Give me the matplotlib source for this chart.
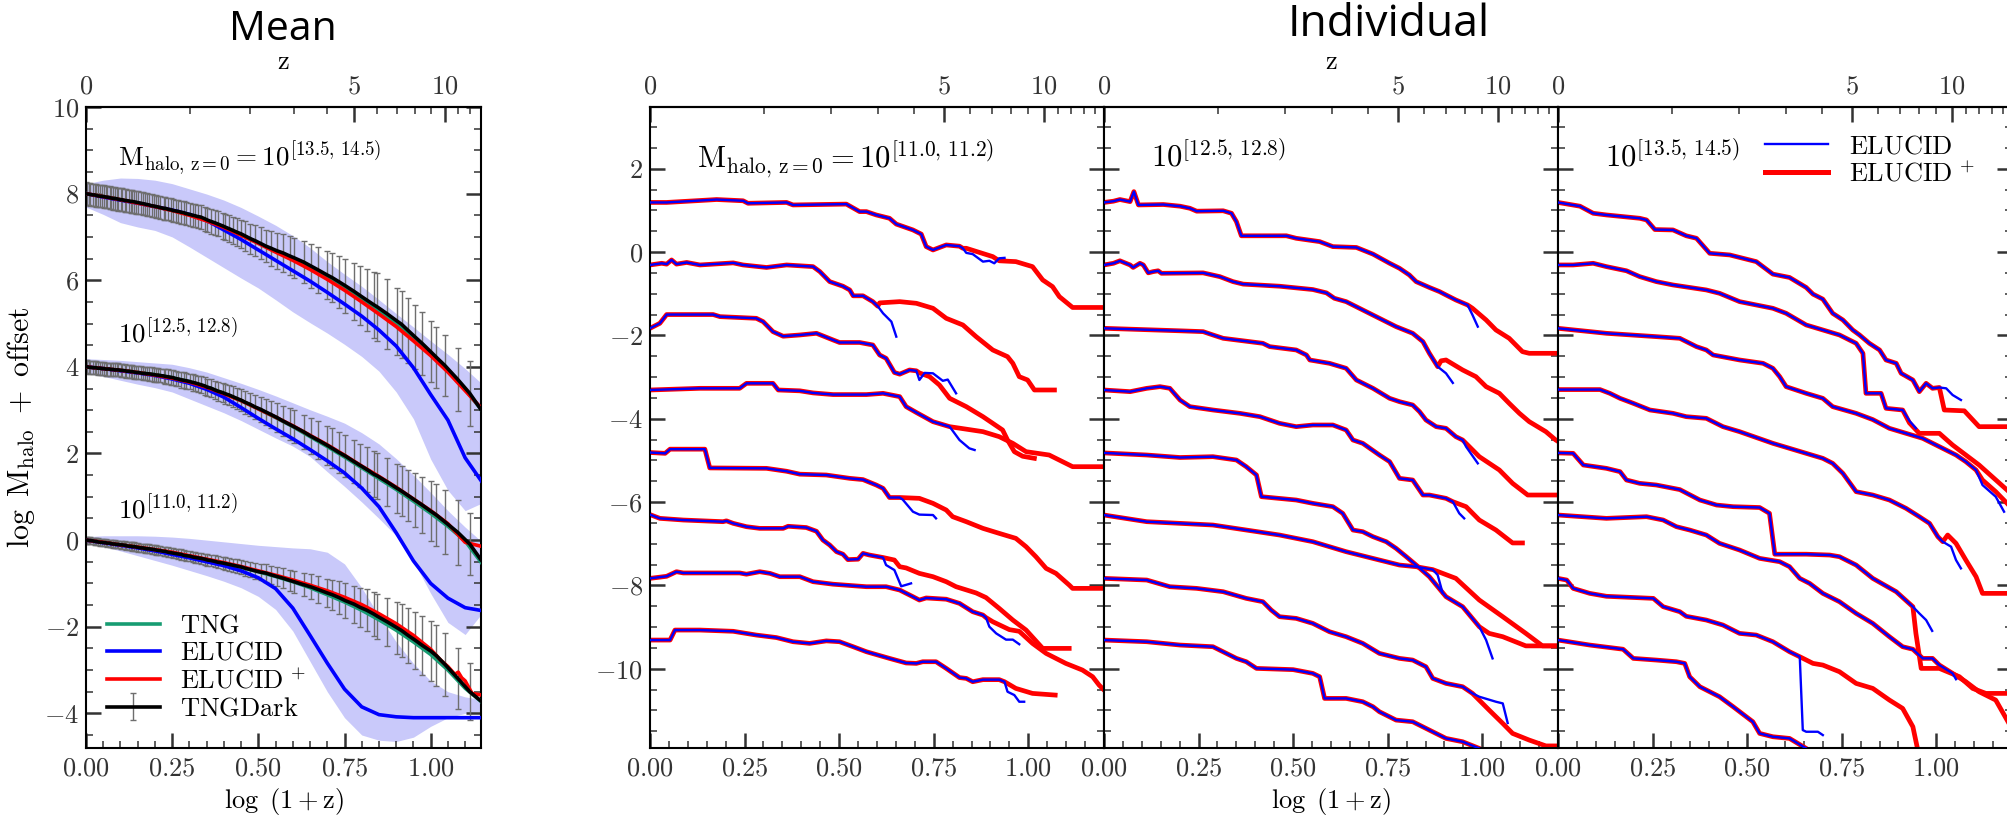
import numpy as np
import matplotlib.pyplot as plt
from matplotlib.lines import Line2D
from matplotlib.ticker import MultipleLocator, FixedLocator, FuncFormatter

plt.rcParams['font.family'] = 'serif'
plt.rcParams['font.serif'] = ['cmr10', 'DejaVu Serif']
plt.rcParams['mathtext.fontset'] = 'cm'
plt.rcParams['axes.unicode_minus'] = False

# ---------------- Mean panel data ----------------
# TNG snapshot redshifts (TNGDark points / error bars)
SNAP_Z = [0.00, 0.01, 0.02, 0.03, 0.05, 0.06, 0.07, 0.08, 0.10, 0.11,
          0.13, 0.14, 0.15, 0.17, 0.18, 0.20, 0.21, 0.23, 0.24, 0.26,
          0.27, 0.30, 0.31, 0.33, 0.35, 0.36, 0.38, 0.40, 0.42, 0.44,
          0.46, 0.48, 0.50, 0.52, 0.55, 0.58, 0.60, 0.62, 0.64, 0.68,
          0.70, 0.73, 0.76, 0.79, 0.82, 0.85, 0.89, 0.92, 0.95, 1.00,
          1.04, 1.07, 1.11, 1.15, 1.21, 1.25, 1.30, 1.36, 1.41, 1.50,
          1.53, 1.60, 1.67, 1.74, 1.82, 1.90, 2.00, 2.10, 2.21, 2.32,
          2.44, 2.58, 2.73, 2.90, 3.01, 3.28, 3.49, 3.71, 4.01, 4.18,
          4.43, 4.66, 5.00, 5.23, 5.53, 5.85, 6.01, 6.49, 7.01, 7.24,
          7.60, 8.01, 8.45, 9.00, 9.39, 10.00, 10.98, 11.98, 14.99]

TOP_DARK = [8.00, 7.99, 7.99, 7.98, 7.97, 7.97, 7.96, 7.95, 7.94, 7.94,
            7.93, 7.92, 7.92, 7.91, 7.90, 7.89, 7.89, 7.88, 7.87, 7.86,
            7.86, 7.84, 7.84, 7.83, 7.82, 7.82, 7.81, 7.80, 7.79, 7.78,
            7.77, 7.76, 7.75, 7.74, 7.72, 7.71, 7.70, 7.69, 7.68, 7.66,
            7.66, 7.64, 7.63, 7.61, 7.60, 7.59, 7.57, 7.56, 7.54, 7.52,
            7.50, 7.49, 7.47, 7.46, 7.42, 7.39, 7.36, 7.33, 7.30, 7.25,
            7.23, 7.19, 7.15, 7.11, 7.07, 7.02, 6.96, 6.91, 6.85, 6.79,
            6.74, 6.68, 6.63, 6.56, 6.52, 6.42, 6.33, 6.24, 6.12, 6.06,
            5.96, 5.87, 5.74, 5.65, 5.54, 5.43, 5.38, 5.22, 5.05, 4.98,
            4.84, 4.69, 4.54, 4.35, 4.22, 4.03, 3.71, 3.39, 2.35]
TOP_ERR = [0.26] * 49 + [0.27,
           0.27, 0.27, 0.27, 0.28, 0.28, 0.28, 0.29, 0.29, 0.29, 0.30,
           0.30, 0.31, 0.32, 0.32, 0.33, 0.34, 0.35, 0.36, 0.37, 0.38,
           0.40, 0.42, 0.43, 0.45, 0.46, 0.49, 0.51, 0.53, 0.55, 0.57,
           0.60, 0.63, 0.66, 0.68, 0.72, 0.76, 0.78, 0.80, 0.78, 0.77,
           0.75, 0.73, 0.72, 0.70, 0.70, 0.70, 0.72, 0.75, 0.75]

MID_DARK = [4.00, 4.00, 3.99, 3.99, 3.98, 3.98, 3.98, 3.97, 3.97, 3.96,
            3.96, 3.95, 3.95, 3.95, 3.94, 3.94, 3.93, 3.93, 3.93, 3.92,
            3.92, 3.91, 3.90, 3.90, 3.89, 3.89, 3.88, 3.87, 3.87, 3.86,
            3.85, 3.85, 3.84, 3.84, 3.83, 3.82, 3.81, 3.81, 3.80, 3.79,
            3.78, 3.77, 3.76, 3.75, 3.73, 3.72, 3.70, 3.69, 3.68, 3.66,
            3.64, 3.63, 3.61, 3.59, 3.56, 3.53, 3.51, 3.47, 3.44, 3.40,
            3.38, 3.35, 3.31, 3.27, 3.23, 3.18, 3.13, 3.07, 3.02, 2.96,
            2.90, 2.83, 2.75, 2.67, 2.62, 2.50, 2.40, 2.31, 2.19, 2.12,
            2.02, 1.94, 1.81, 1.73, 1.63, 1.52, 1.48, 1.34, 1.19, 1.13,
            1.03, 0.92, 0.81, 0.67, 0.58, 0.42, 0.18, -0.09, -1.10]
MID_ERR = [0.15] * 33 + [0.16, 0.16, 0.16, 0.16, 0.16, 0.16, 0.17,
           0.17, 0.17, 0.17, 0.17, 0.17, 0.17, 0.18, 0.18, 0.18, 0.18,
           0.19, 0.19, 0.19, 0.20, 0.20, 0.20, 0.21, 0.21, 0.22, 0.22,
           0.23, 0.23, 0.24, 0.25, 0.25, 0.26, 0.27, 0.28, 0.29, 0.30,
           0.31, 0.33, 0.35, 0.37, 0.38, 0.40, 0.42, 0.44, 0.45, 0.46,
           0.47, 0.48, 0.49, 0.50, 0.51, 0.53, 0.54, 0.55, 0.57, 0.58,
           0.60, 0.62, 0.65, 0.70, 0.72, 0.74, 0.75, 0.72, 0.70]

LOW_DARK = [0.00, -0.00, -0.01, -0.01, -0.02, -0.03, -0.03, -0.04, -0.05, -0.05,
            -0.06, -0.06, -0.07, -0.07, -0.08, -0.09, -0.09, -0.10, -0.10, -0.11,
            -0.11, -0.12, -0.13, -0.14, -0.14, -0.15, -0.15, -0.16, -0.17, -0.18,
            -0.18, -0.19, -0.20, -0.20, -0.21, -0.22, -0.23, -0.24, -0.24, -0.26,
            -0.26, -0.28, -0.29, -0.30, -0.31, -0.32, -0.33, -0.35, -0.36, -0.37,
            -0.39, -0.40, -0.41, -0.42, -0.44, -0.46, -0.47, -0.49, -0.51, -0.53,
            -0.54, -0.56, -0.58, -0.60, -0.62, -0.65, -0.68, -0.71, -0.74, -0.76,
            -0.80, -0.84, -0.88, -0.93, -0.96, -1.03, -1.08, -1.14, -1.22, -1.26,
            -1.33, -1.40, -1.48, -1.55, -1.62, -1.71, -1.76, -1.89, -2.03, -2.09,
            -2.20, -2.31, -2.43, -2.56, -2.67, -2.87, -3.19, -3.50, -4.10]
LOW_ERR = [0.08] * 15 + [0.09] * 10 + [0.10] * 11 + [0.11] * 9 + [0.12] * 8 + [
           0.13, 0.13, 0.13, 0.13, 0.14, 0.14, 0.14,
           0.15, 0.15, 0.15, 0.16, 0.16, 0.17, 0.17, 0.18, 0.19, 0.20,
           0.21, 0.22, 0.23, 0.24, 0.25, 0.27, 0.29, 0.31, 0.33, 0.35,
           0.38, 0.40, 0.43, 0.45, 0.48, 0.51, 0.52, 0.56, 0.60, 0.62,
           0.64, 0.66, 0.68, 0.70, 0.71, 0.72, 0.70, 0.66, 0.65]

# coarse grid in log(1+z) for the other mean curves and the ELUCID scatter band
XG = [0.00, 0.05, 0.10, 0.15, 0.20, 0.25, 0.30, 0.35, 0.40, 0.45, 0.50, 0.55,
      0.60, 0.65, 0.70, 0.75, 0.80, 0.85, 0.90, 0.95, 1.00, 1.05, 1.10, 1.15]

TOP_TNG = [8.00, 7.93, 7.86, 7.78, 7.70, 7.61, 7.51, 7.38, 7.23, 7.05, 6.86, 6.67,
           6.49, 6.29, 6.07, 5.83, 5.57, 5.30, 5.01, 4.67, 4.30, 3.92, 3.48, 2.98]
TOP_ELUCID = [8.00, 7.92, 7.85, 7.78, 7.70, 7.62, 7.52, 7.38, 7.16, 6.94, 6.70, 6.46,
              6.22, 5.98, 5.72, 5.45, 5.17, 4.85, 4.48, 3.98, 3.36, 2.77, 1.90, 1.33]
TOP_PLUS = [8.00, 7.93, 7.86, 7.78, 7.70, 7.61, 7.50, 7.37, 7.22, 7.04, 6.85, 6.65,
            6.46, 6.25, 6.02, 5.77, 5.50, 5.22, 4.93, 4.60, 4.26, 3.88, 3.45, 3.02]
TOP_BAND_HI = [8.23, 8.31, 8.36, 8.35, 8.31, 8.23, 8.11, 7.99, 7.85, 7.68, 7.48, 7.27,
               7.03, 6.75, 6.43, 6.14, 5.86, 5.55, 5.23, 4.92, 4.60, 4.29, 3.96, 3.60]
TOP_BAND_LO = [7.69, 7.52, 7.33, 7.23, 7.15, 7.00, 6.77, 6.53, 6.29, 6.05, 5.82, 5.55,
               5.27, 5.02, 4.78, 4.52, 4.24, 3.90, 3.42, 2.80, 1.87, 1.15, 0.68, 0.86]

MID_TNG = [4.00, 3.96, 3.92, 3.87, 3.82, 3.75, 3.66, 3.54, 3.39, 3.22, 3.03, 2.83,
           2.62, 2.39, 2.16, 1.92, 1.67, 1.42, 1.17, 0.90, 0.62, 0.32, -0.02, -0.55]
MID_ELUCID = [4.00, 3.96, 3.91, 3.86, 3.80, 3.72, 3.62, 3.48, 3.30, 3.06, 2.81, 2.57,
              2.34, 2.09, 1.83, 1.55, 1.20, 0.77, 0.17, -0.48, -1.00, -1.34, -1.56, -1.63]
MID_PLUS = [4.00, 3.96, 3.92, 3.87, 3.81, 3.74, 3.65, 3.53, 3.38, 3.22, 3.03, 2.84,
            2.64, 2.42, 2.20, 1.96, 1.71, 1.47, 1.22, 0.95, 0.68, 0.38, -0.05, -0.15]
MID_BAND_HI = [4.19, 4.17, 4.15, 4.12, 4.09, 4.06, 3.98, 3.88, 3.75, 3.62, 3.48, 3.33,
               3.17, 3.01, 2.86, 2.70, 2.48, 2.22, 1.88, 1.50, 1.10, 0.68, 0.30, -0.05]
MID_BAND_LO = [3.85, 3.78, 3.69, 3.60, 3.52, 3.42, 3.26, 3.10, 2.94, 2.76, 2.56, 2.36,
               2.17, 1.93, 1.58, 1.24, 0.88, 0.50, 0.10, -0.48, -1.23, -1.90, -2.18, -1.68]

LOW_TNG = [0.00, -0.05, -0.11, -0.16, -0.23, -0.29, -0.37, -0.45, -0.54, -0.63, -0.73, -0.84,
           -0.96, -1.10, -1.26, -1.43, -1.62, -1.84, -2.08, -2.35, -2.64, -3.00, -3.42, -3.75]
LOW_ELUCID = [0.00, -0.06, -0.12, -0.18, -0.25, -0.33, -0.41, -0.50, -0.59, -0.71, -0.87, -1.12,
              -1.57, -2.20, -2.84, -3.44, -3.85, -4.03, -4.08, -4.10, -4.10, -4.10, -4.10, -4.10]
LOW_PLUS_X = [0.00, 0.05, 0.10, 0.15, 0.20, 0.25, 0.30, 0.35, 0.40, 0.45, 0.50, 0.55,
              0.60, 0.65, 0.70, 0.75, 0.80, 0.85, 0.90, 0.95, 1.00, 1.03, 1.05, 1.07,
              1.08, 1.09, 1.10, 1.12, 1.15]
LOW_PLUS = [0.00, -0.05, -0.11, -0.16, -0.22, -0.28, -0.36, -0.44, -0.52, -0.61, -0.71, -0.81,
            -0.92, -1.04, -1.17, -1.32, -1.49, -1.70, -1.93, -2.20, -2.52, -2.78, -2.92, -3.10,
            -3.05, -3.18, -3.25, -3.54, -3.58]
LOW_BAND_HI = [0.08, 0.10, 0.10, 0.10, 0.09, 0.07, 0.04, 0.00, -0.04, -0.08, -0.12, -0.15,
               -0.18, -0.20, -0.28, -0.55, -1.10, -1.75, -2.35, -2.85, -3.25, -3.50, -3.62, -3.68]
LOW_BAND_LO = [-0.08, -0.15, -0.25, -0.36, -0.47, -0.58, -0.70, -0.82, -0.95, -1.10, -1.30, -1.60,
               -2.10, -2.80, -3.50, -4.10, -4.50, -4.62, -4.65, -4.55, -4.30, -4.10, -4.00, -3.95]

# ---------------- Individual tracks: (log(1+z), log M + offset) ----------------
# shared part (ELUCID and ELUCID+ agree), then the ELUCID tail and the ELUCID+ tail
P1_SHARED = [
    [(0, 1.19), (0.044, 1.19), (0.158, 1.25), (0.176, 1.26), (0.246, 1.23), (0.259, 1.17), (0.361, 1.19),
     (0.378, 1.13), (0.519, 1.15), (0.554, 0.97), (0.572, 0.97), (0.598, 0.89), (0.633, 0.81), (0.651, 0.67),
     (0.695, 0.53), (0.717, 0.43), (0.730, 0.13), (0.748, 0.05), (0.783, 0.17), (0.818, 0.14), (0.827, 0.09)],
    [(0, -0.31), (0.031, -0.27), (0.044, -0.29), (0.057, -0.19), (0.070, -0.29), (0.097, -0.25), (0.132, -0.31),
     (0.220, -0.26), (0.246, -0.31), (0.308, -0.37), (0.361, -0.31), (0.431, -0.35), (0.449, -0.47),
     (0.475, -0.71), (0.510, -0.82), (0.528, -0.91), (0.537, -1.05), (0.563, -1.05), (0.589, -1.19),
     (0.602, -1.30)],
    [(0, -1.83), (0.026, -1.71), (0.044, -1.50), (0.167, -1.50), (0.185, -1.55), (0.281, -1.59), (0.299, -1.67),
     (0.325, -1.91), (0.352, -2.02), (0.396, -1.99), (0.440, -1.95), (0.484, -2.11), (0.501, -2.17),
     (0.554, -2.17), (0.589, -2.23), (0.607, -2.47), (0.624, -2.55), (0.646, -2.89), (0.660, -2.93),
     (0.686, -2.83), (0.704, -2.85)],
    [(0, -3.31), (0.132, -3.27), (0.237, -3.27), (0.255, -3.15), (0.325, -3.15), (0.339, -3.31), (0.396, -3.33),
     (0.431, -3.38), (0.484, -3.42), (0.572, -3.42), (0.616, -3.39), (0.660, -3.47), (0.677, -3.71),
     (0.704, -3.85), (0.748, -4.07), (0.792, -4.19)],
    [(0, -4.81), (0.040, -4.83), (0.053, -4.73), (0.145, -4.73), (0.158, -5.18), (0.308, -5.19), (0.361, -5.26),
     (0.396, -5.33), (0.466, -5.35), (0.528, -5.43), (0.563, -5.46), (0.598, -5.59), (0.616, -5.67),
     (0.633, -5.89), (0.660, -5.89)],
    [(0, -6.30), (0.026, -6.39), (0.088, -6.43), (0.193, -6.47), (0.202, -6.45), (0.220, -6.51), (0.255, -6.59),
     (0.290, -6.63), (0.352, -6.63), (0.365, -6.58), (0.413, -6.61), (0.440, -6.70), (0.457, -6.91),
     (0.475, -7.03), (0.493, -7.19), (0.510, -7.25), (0.523, -7.38), (0.550, -7.37), (0.563, -7.23),
     (0.580, -7.27), (0.616, -7.33)],
    [(0, -7.83), (0.044, -7.78), (0.070, -7.67), (0.088, -7.70), (0.237, -7.70), (0.255, -7.73), (0.290, -7.67),
     (0.317, -7.71), (0.343, -7.79), (0.396, -7.79), (0.431, -7.91), (0.484, -7.97), (0.572, -8.03),
     (0.624, -8.03), (0.660, -8.11), (0.695, -8.27), (0.712, -8.35), (0.730, -8.30), (0.783, -8.33),
     (0.818, -8.43), (0.853, -8.63), (0.880, -8.71), (0.888, -8.77)],
    [(0, -9.31), (0.053, -9.31), (0.066, -9.07), (0.132, -9.07), (0.220, -9.10), (0.281, -9.19), (0.334, -9.25),
     (0.378, -9.35), (0.422, -9.39), (0.466, -9.33), (0.501, -9.35), (0.537, -9.47), (0.572, -9.59),
     (0.633, -9.75), (0.677, -9.86), (0.704, -9.87), (0.721, -9.83), (0.756, -9.83), (0.783, -9.99),
     (0.818, -10.21), (0.836, -10.23), (0.853, -10.31), (0.880, -10.26), (0.923, -10.26), (0.937, -10.31)],
]
P1_BLUE = [
    [(0.836, -0.02), (0.853, -0.05), (0.880, -0.23), (0.897, -0.21), (0.910, -0.27), (0.923, -0.15), (0.937, -0.14)],
    [(0.616, -1.47), (0.638, -1.67), (0.651, -2.03)],
    [(0.712, -3.07), (0.726, -2.90), (0.748, -2.91), (0.774, -3.09), (0.787, -3.06), (0.809, -3.39)],
    [(0.818, -4.51), (0.844, -4.71), (0.858, -4.75)],
    [(0.668, -5.94), (0.695, -6.23), (0.712, -6.30), (0.748, -6.31), (0.756, -6.39)],
    [(0.624, -7.51), (0.646, -7.63), (0.664, -8.02), (0.690, -7.95)],
    [(0.897, -8.99), (0.915, -9.15), (0.941, -9.30), (0.959, -9.30), (0.976, -9.41)],
    [(0.945, -10.55), (0.963, -10.63), (0.976, -10.79), (0.989, -10.79)],
]
P1_RED = [
    [(0.836, 0.09), (0.906, -0.11), (0.923, -0.21), (0.967, -0.23), (1.011, -0.35), (1.038, -0.67),
     (1.064, -0.83), (1.082, -1.07), (1.117, -1.33), (1.21, -1.33)],
    [(0.607, -1.22), (0.660, -1.19), (0.704, -1.23), (0.748, -1.35), (0.783, -1.59), (0.827, -1.75),
     (0.862, -2.03), (0.906, -2.35), (0.945, -2.51), (0.959, -2.67), (0.976, -2.99), (0.998, -3.07),
     (1.016, -3.31), (1.069, -3.31)],
    [(0.712, -2.90), (0.739, -2.99), (0.765, -3.19), (0.792, -3.51), (0.836, -3.71), (0.880, -3.95),
     (0.932, -4.27), (0.945, -4.51), (0.963, -4.79), (0.985, -4.90), (1.016, -4.95)],
    [(0.880, -4.31), (0.923, -4.43), (0.959, -4.59), (0.994, -4.79), (1.055, -4.87), (1.117, -5.15), (1.21, -5.15)],
    [(0.712, -5.91), (0.748, -6.03), (0.783, -6.19), (0.800, -6.35), (0.836, -6.47), (0.880, -6.63),
     (0.923, -6.75), (0.967, -6.87), (0.994, -7.07), (1.020, -7.31), (1.047, -7.59), (1.073, -7.71),
     (1.108, -7.99), (1.117, -8.07), (1.21, -8.07)],
    [(0.646, -7.39), (0.660, -7.55), (0.677, -7.58), (0.712, -7.71), (0.748, -7.79), (0.783, -7.91),
     (0.809, -8.03), (0.862, -8.18), (0.888, -8.29), (0.923, -8.55), (0.959, -8.83), (0.994, -9.07),
     (1.038, -9.51), (1.108, -9.51)],
    [(0.906, -8.87), (0.950, -9.06), (0.976, -9.10), (1.011, -9.39), (1.047, -9.63), (1.099, -9.87),
     (1.143, -10.03), (1.170, -10.19), (1.187, -10.39), (1.21, -10.60)],
    [(0.967, -10.47), (1.011, -10.59), (1.071, -10.63)],
]

P2_SHARED = [
    [(0, 1.19), (0.025, 1.22), (0.042, 1.26), (0.069, 1.21), (0.079, 1.45), (0.091, 1.13), (0.157, 1.14),
     (0.201, 1.10), (0.227, 1.05), (0.245, 0.98), (0.315, 0.99), (0.337, 0.93), (0.350, 0.73), (0.363, 0.39),
     (0.482, 0.39), (0.508, 0.33), (0.570, 0.25), (0.605, 0.13), (0.667, 0.11), (0.711, -0.05), (0.755, -0.27),
     (0.781, -0.39), (0.807, -0.55), (0.825, -0.71), (0.860, -0.85), (0.887, -0.95), (0.904, -1.03),
     (0.930, -1.15), (0.961, -1.27)],
    [(0, -0.31), (0.025, -0.27), (0.042, -0.21), (0.069, -0.31), (0.077, -0.37), (0.095, -0.27), (0.104, -0.31),
     (0.117, -0.50), (0.130, -0.47), (0.143, -0.45), (0.152, -0.51), (0.262, -0.50), (0.306, -0.59),
     (0.341, -0.71), (0.368, -0.77), (0.464, -0.82), (0.552, -0.90), (0.588, -0.98), (0.609, -1.11),
     (0.640, -1.19), (0.684, -1.39), (0.728, -1.59), (0.772, -1.79), (0.816, -1.95), (0.843, -2.15),
     (0.860, -2.43), (0.882, -2.75)],
    [(0, -1.83), (0.201, -1.89), (0.262, -1.91), (0.288, -1.99), (0.315, -2.07), (0.420, -2.19), (0.438, -2.27),
     (0.508, -2.35), (0.535, -2.47), (0.544, -2.59), (0.596, -2.67), (0.640, -2.79), (0.667, -3.07),
     (0.711, -3.27), (0.755, -3.51), (0.781, -3.59), (0.816, -3.67), (0.834, -3.83), (0.851, -4.03),
     (0.878, -4.19), (0.904, -4.23), (0.930, -4.43), (0.948, -4.51)],
    [(0, -3.31), (0.069, -3.35), (0.113, -3.27), (0.148, -3.23), (0.174, -3.27), (0.201, -3.55), (0.227, -3.71),
     (0.288, -3.79), (0.359, -3.87), (0.412, -3.95), (0.464, -4.11), (0.508, -4.19), (0.552, -4.15),
     (0.605, -4.15), (0.640, -4.27), (0.658, -4.51), (0.684, -4.59), (0.728, -4.87), (0.755, -5.03),
     (0.781, -5.43), (0.816, -5.47), (0.843, -5.83), (0.860, -5.83), (0.904, -5.91), (0.922, -5.99)],
    [(0, -4.82), (0.113, -4.87), (0.201, -4.93), (0.288, -4.91), (0.350, -4.99), (0.376, -5.15), (0.403, -5.35),
     (0.416, -5.87), (0.508, -5.95), (0.552, -6.03), (0.605, -6.11), (0.631, -6.27), (0.658, -6.67),
     (0.684, -6.71), (0.711, -6.83), (0.746, -6.95), (0.772, -7.11), (0.799, -7.31), (0.825, -7.51),
     (0.860, -7.79), (0.904, -8.27), (0.948, -8.51), (0.992, -8.99)],
    [(0, -6.31), (0.113, -6.47), (0.201, -6.51), (0.288, -6.55), (0.376, -6.67), (0.464, -6.79), (0.552, -6.95),
     (0.596, -7.07), (0.640, -7.19), (0.728, -7.39), (0.781, -7.51), (0.825, -7.55), (0.869, -7.62)],
    [(0, -7.83), (0.113, -7.87), (0.174, -8.03), (0.245, -8.07), (0.315, -8.15), (0.376, -8.31), (0.420, -8.39),
     (0.442, -8.59), (0.464, -8.75), (0.508, -8.79), (0.552, -8.91), (0.596, -9.11), (0.640, -9.23),
     (0.684, -9.39), (0.728, -9.63), (0.781, -9.75), (0.816, -9.79), (0.851, -9.95), (0.869, -10.23),
     (0.904, -10.35), (0.948, -10.43), (0.974, -10.59)],
    [(0, -9.31), (0.113, -9.35), (0.201, -9.43), (0.288, -9.47), (0.350, -9.75), (0.376, -9.83), (0.403, -9.99),
     (0.500, -10.02), (0.552, -10.11), (0.570, -10.19), (0.583, -10.71), (0.640, -10.71), (0.684, -10.79),
     (0.711, -10.91), (0.728, -11.03), (0.772, -11.23), (0.816, -11.27), (0.860, -11.47), (0.904, -11.67),
     (0.948, -11.75), (0.992, -11.91), (1.05, -12.30)],
]
P2_BLUE = [
    [(0.974, -1.51), (0.988, -1.79)],
    [(0.904, -2.91), (0.922, -3.14)],
    [(0.957, -4.67), (0.988, -5.07)],
    [(0.939, -6.27), (0.952, -6.39)],
    [(1.010, -9.31), (1.027, -9.75)],
    [(0.882, -7.75), (0.895, -8.18)],
    [(0.992, -10.67), (1.036, -10.79), (1.054, -10.83), (1.067, -11.30)],
    [],
]
P2_RED = [
    [(0.974, -1.35), (1.010, -1.63), (1.036, -1.87), (1.071, -2.07), (1.106, -2.39), (1.124, -2.43), (1.21, -2.43)],
    [(0.891, -2.61), (0.904, -2.59), (0.948, -2.83), (0.983, -2.99), (1.010, -3.23), (1.045, -3.39),
     (1.071, -3.63), (1.098, -3.87), (1.124, -4.07), (1.168, -4.31), (1.194, -4.51), (1.21, -4.60)],
    [(0.992, -4.91), (1.045, -5.23), (1.080, -5.55), (1.120, -5.83), (1.21, -5.83)],
    [(0.957, -6.11), (0.992, -6.43), (1.036, -6.67), (1.080, -6.98), (1.106, -6.98)],
    [(1.018, -9.15), (1.054, -9.23), (1.115, -9.45), (1.21, -9.45)],
    [(0.930, -7.83), (0.992, -8.35), (1.054, -8.75), (1.115, -9.15), (1.159, -9.45), (1.21, -9.45)],
    [(1.018, -10.99), (1.054, -11.31), (1.080, -11.55), (1.124, -11.71), (1.168, -11.85), (1.21, -11.85)],
    [],
]

P3_SHARED = [
    [(0, 1.19), (0.058, 1.10), (0.093, 0.93), (0.128, 0.89), (0.216, 0.81), (0.234, 0.77), (0.256, 0.54),
     (0.304, 0.53), (0.339, 0.39), (0.366, 0.33), (0.401, -0.03), (0.454, -0.07), (0.524, -0.23),
     (0.568, -0.53), (0.612, -0.61), (0.656, -0.85), (0.674, -1.01), (0.700, -1.13), (0.726, -1.47),
     (0.753, -1.63), (0.779, -1.87), (0.797, -1.99), (0.823, -2.19), (0.850, -2.35), (0.867, -2.59),
     (0.894, -2.67), (0.907, -2.91), (0.938, -3.07), (0.955, -3.35), (0.973, -3.15), (0.990, -3.27),
     (1.008, -3.25)],
    [(0, -0.31), (0.040, -0.31), (0.093, -0.27), (0.128, -0.35), (0.181, -0.45), (0.216, -0.59), (0.260, -0.71),
     (0.304, -0.79), (0.392, -0.91), (0.427, -0.99), (0.480, -1.19), (0.568, -1.35), (0.603, -1.47),
     (0.656, -1.75), (0.700, -1.87), (0.744, -1.99), (0.788, -2.19), (0.806, -2.43), (0.814, -3.39),
     (0.854, -3.39), (0.867, -3.75), (0.911, -3.79)],
    [(0, -1.83), (0.128, -1.95), (0.260, -2.03), (0.322, -2.07), (0.366, -2.27), (0.392, -2.35), (0.410, -2.47),
     (0.480, -2.59), (0.542, -2.67), (0.568, -2.79), (0.586, -2.99), (0.603, -3.23), (0.656, -3.39),
     (0.700, -3.51), (0.726, -3.71), (0.788, -3.87), (0.832, -4.02), (0.876, -4.23), (0.920, -4.35),
     (0.964, -4.47), (1.008, -4.67), (1.052, -4.87), (1.078, -5.03), (1.105, -5.23)],
    [(0, -3.30), (0.111, -3.30), (0.137, -3.39), (0.164, -3.51), (0.199, -3.63), (0.243, -3.79), (0.304, -3.87),
     (0.339, -3.95), (0.392, -3.99), (0.436, -4.19), (0.480, -4.31), (0.568, -4.59), (0.656, -4.83),
     (0.700, -4.95), (0.726, -5.07), (0.753, -5.31), (0.788, -5.75), (0.832, -5.83), (0.876, -5.95),
     (0.920, -6.15), (0.955, -6.35), (0.982, -6.51), (1.004, -6.83), (1.017, -6.95)],
    [(0, -4.82), (0.040, -4.83), (0.067, -5.11), (0.128, -5.19), (0.164, -5.27), (0.181, -5.47), (0.216, -5.55),
     (0.260, -5.59), (0.322, -5.70), (0.375, -5.95), (0.419, -6.07), (0.463, -6.11), (0.533, -6.13),
     (0.559, -6.27), (0.573, -7.25), (0.656, -7.25), (0.718, -7.27), (0.744, -7.31), (0.788, -7.51),
     (0.832, -7.83), (0.894, -8.15), (0.938, -8.51)],
    [(0, -6.31), (0.128, -6.39), (0.234, -6.35), (0.278, -6.43), (0.313, -6.59), (0.348, -6.67), (0.392, -6.79),
     (0.427, -6.99), (0.480, -7.15), (0.533, -7.35), (0.586, -7.43), (0.612, -7.55), (0.639, -7.83),
     (0.665, -7.95), (0.700, -8.19), (0.744, -8.39), (0.788, -8.67), (0.832, -8.91), (0.876, -9.23),
     (0.911, -9.47), (0.938, -9.53), (0.964, -9.75), (0.990, -9.75), (1.008, -9.91), (1.043, -10.11)],
    [(0, -7.83), (0.023, -7.87), (0.040, -8.07), (0.084, -8.19), (0.128, -8.26), (0.252, -8.31), (0.278, -8.51),
     (0.322, -8.63), (0.339, -8.74), (0.392, -8.83), (0.436, -8.95), (0.480, -9.15), (0.524, -9.19),
     (0.568, -9.35), (0.612, -9.59), (0.639, -9.71)],
    [(0, -9.31), (0.084, -9.43), (0.172, -9.53), (0.199, -9.75), (0.260, -9.79), (0.313, -9.83), (0.335, -9.87),
     (0.348, -10.19), (0.375, -10.43), (0.427, -10.67), (0.463, -10.91), (0.515, -11.27), (0.533, -11.55),
     (0.568, -11.63), (0.612, -11.67), (0.656, -11.91), (0.70, -12.30)],
]
P3_BLUE = [
    [(1.026, -3.27), (1.043, -3.43), (1.065, -3.55)],
    [(0.929, -4.05), (0.946, -4.23)],
    [(1.122, -5.59), (1.157, -5.87), (1.179, -6.23)],
    [(1.039, -7.07), (1.052, -7.39), (1.065, -7.59)],
    [(0.955, -8.67), (0.973, -8.83), (0.989, -9.09)],
    [(1.052, -10.25)],
    [(0.647, -11.47), (0.656, -11.51), (0.687, -11.51), (0.700, -11.59)],
    [],
]
P3_RED = [
    [(1.021, -3.79), (1.074, -3.81), (1.113, -4.19), (1.21, -4.19)],
    [(0.929, -4.10), (0.955, -4.35), (1.008, -4.35), (1.043, -4.63), (1.113, -5.11), (1.187, -5.71), (1.21, -5.90)],
    [(1.122, -5.47), (1.157, -5.75), (1.187, -6.03), (1.21, -6.25)],
    [(1.030, -6.79), (1.052, -6.99), (1.078, -7.39), (1.105, -7.79), (1.122, -8.19), (1.21, -8.19)],
    [(0.946, -9.15), (0.960, -9.99), (1.008, -9.99), (1.061, -10.19), (1.096, -10.47), (1.131, -10.59), (1.21, -10.59)],
    [(1.078, -10.31), (1.113, -10.55), (1.157, -10.75), (1.187, -11.23), (1.21, -11.60)],
    [(0.674, -9.87), (0.700, -9.91), (0.744, -10.07), (0.788, -10.35), (0.832, -10.47), (0.876, -10.75),
     (0.911, -10.95), (0.938, -11.39), (0.951, -11.95), (0.955, -12.30)],
    [],
]

# ---------------- styling ----------------
C_TNG = '#179c72'
C_EL = '#0000ff'
C_PL = '#ff0000'
C_BAND = '#c9c9fa'
C_TICK = '#333333'
FS_TICK = 19


def to_z(x):
    return 10 ** np.asarray(x) - 1


def from_z(z):
    return np.log10(np.maximum(1 + np.asarray(z), 1e-9))


fmt_x = FuncFormatter(lambda v, p: r'$%.2f$' % v)
fmt_i = FuncFormatter(lambda v, p: r'$%d$' % round(v))


def style(ax, xmax, ylim, ylabels=True, zlabel=False):
    ax.set_xlim(0, xmax)
    ax.set_ylim(*ylim)
    ax.xaxis.set_major_locator(MultipleLocator(0.25))
    ax.xaxis.set_minor_locator(MultipleLocator(0.05))
    ax.xaxis.set_major_formatter(fmt_x)
    ax.yaxis.set_major_locator(MultipleLocator(2))
    ax.yaxis.set_minor_locator(MultipleLocator(0.5))
    ax.yaxis.set_major_formatter(fmt_i)
    ax.tick_params(which='both', direction='in', top=False, right=True,
                   colors=C_TICK, labelsize=FS_TICK)
    ax.tick_params(which='major', length=11, width=1.8)
    ax.tick_params(which='minor', length=5, width=1.1)
    ax.tick_params(axis='x', pad=6)
    ax.tick_params(axis='y', pad=5, labelleft=ylabels)
    for s in ax.spines.values():
        s.set_linewidth(1.5)
    sec = ax.secondary_xaxis('top', functions=(to_z, from_z))
    sec.xaxis.set_major_locator(FixedLocator([0, 5, 10]))
    sec.xaxis.set_minor_locator(FixedLocator([1, 2, 3, 4, 6, 7, 8, 9, 11, 12, 13, 14]))
    sec.xaxis.set_major_formatter(fmt_i)
    sec.tick_params(which='both', direction='in', colors=C_TICK, labelsize=FS_TICK)
    sec.tick_params(which='major', length=11, width=1.8, pad=6)
    sec.tick_params(which='minor', length=5, width=1.1)
    sec.spines['top'].set_linewidth(1.5)
    if zlabel:
        sec.set_xlabel(r'$\mathrm{z}$', fontsize=19, labelpad=4)
    return sec


W, H = 2008, 822
fig = plt.figure(figsize=(W / 100, H / 100), dpi=100)

# ---------------- Mean panel ----------------
ax0 = fig.add_axes([86 / W, 74 / H, 395 / W, 641 / H])
style(ax0, 1.146, (-4.8, 10), zlabel=True)
xs = from_z(SNAP_Z)

for hi, lo in [(TOP_BAND_HI, TOP_BAND_LO), (MID_BAND_HI, MID_BAND_LO), (LOW_BAND_HI, LOW_BAND_LO)]:
    ax0.fill_between(XG, lo, hi, color=C_BAND, lw=0, zorder=1)

for dark, err in [(TOP_DARK, TOP_ERR), (MID_DARK, MID_ERR), (LOW_DARK, LOW_ERR)]:
    eb = ax0.errorbar(xs, dark, yerr=err, fmt='none', ecolor='#6e6e6e', elinewidth=1.0,
                      capsize=2.0, capthick=1.0, zorder=2)

for tng, el, pl_x, pl in [(TOP_TNG, TOP_ELUCID, XG, TOP_PLUS),
                          (MID_TNG, MID_ELUCID, XG, MID_PLUS),
                          (LOW_TNG, LOW_ELUCID, LOW_PLUS_X, LOW_PLUS)]:
    h_tng, = ax0.plot(XG, tng, color=C_TNG, lw=2.6, zorder=3)
    h_el, = ax0.plot(XG, el, color=C_EL, lw=2.6, zorder=3)
    h_pl, = ax0.plot(pl_x, pl, color=C_PL, lw=2.6, zorder=3)

for dark in [TOP_DARK, MID_DARK, LOW_DARK]:
    h_dark, = ax0.plot(xs, dark, color='black', lw=2.6, zorder=4)

ax0.legend([h_tng, h_el, h_pl, (eb, h_dark)],
           [r'$\mathrm{TNG}$', r'$\mathrm{ELUCID}$', r'$\mathrm{ELUCID}^{\,+}$', r'$\mathrm{TNGDark}$'],
           loc='upper left', bbox_to_anchor=(0.053, 0.209), frameon=False, fontsize=19,
           handlelength=2.0, handletextpad=0.76, labelspacing=0.13, borderpad=0, borderaxespad=0)

ax0.text(0.093, 8.65, r'$\mathrm{M_{halo,\,z=0}} = 10^{[13.5,\,14.5)}$', fontsize=19.5)
ax0.text(0.093, 4.57, r'$10^{[12.5,\,12.8)}$', fontsize=19.5)
ax0.text(0.093, 0.50, r'$10^{[11.0,\,11.2)}$', fontsize=19.5)
ax0.set_xlabel(r'$\log\ (1+\mathrm{z})$', fontsize=19, labelpad=4)
ax0.set_ylabel(r'$\log\ \mathrm{M_{halo}}\ +\ \mathrm{offset}$', fontsize=21.5, labelpad=5)

# ---------------- Individual panels ----------------
labels = [r'$\mathrm{M_{halo,\,z=0}} = 10^{[11.0,\,11.2)}$',
          r'$10^{[12.5,\,12.8)}$', r'$10^{[13.5,\,14.5)}$']
panels = [(P1_SHARED, P1_BLUE, P1_RED), (P2_SHARED, P2_BLUE, P2_RED), (P3_SHARED, P3_BLUE, P3_RED)]
axes = []
for k, (shared, blue, red) in enumerate(panels):
    ax = fig.add_axes([(650 + 454 * k) / W, 74 / H, 454 / W, 641 / H])
    style(ax, 1.2, (-11.9, 3.48), ylabels=(k == 0), zlabel=(k == 1))
    for s, b, r in zip(shared, blue, red):
        rx, ry = zip(*(s + r))
        bx, by = zip(*(s + b))
        ax.plot(rx, ry, color=C_PL, lw=3.4, zorder=2)
        ax.plot(bx, by, color=C_EL, lw=1.7, zorder=3)
    ax.text(0.125, 2.04, labels[k], fontsize=22)
    axes.append(ax)

axes[1].set_xlabel(r'$\log\ (1+\mathrm{z})$', fontsize=19, labelpad=4)
axes[2].legend([Line2D([], [], color=C_EL, lw=1.7), Line2D([], [], color=C_PL, lw=3.6)],
               [r'$\mathrm{ELUCID}$', r'$\mathrm{ELUCID}^{\,+}$'], loc='upper left',
               bbox_to_anchor=(0.456, 0.957), frameon=False, fontsize=19, handlelength=2.4,
               handletextpad=0.8, labelspacing=0.1, borderpad=0, borderaxespad=0)

fig.text(283 / W, 1 - 40 / H, 'Mean', family='Open Sans', fontsize=29.5, ha='center', va='baseline')
fig.text(1389 / W, 1 - 36 / H, 'Individual', family='Open Sans', fontsize=32, ha='center', va='baseline')

fig.savefig('out.png', dpi=100, facecolor='white')
